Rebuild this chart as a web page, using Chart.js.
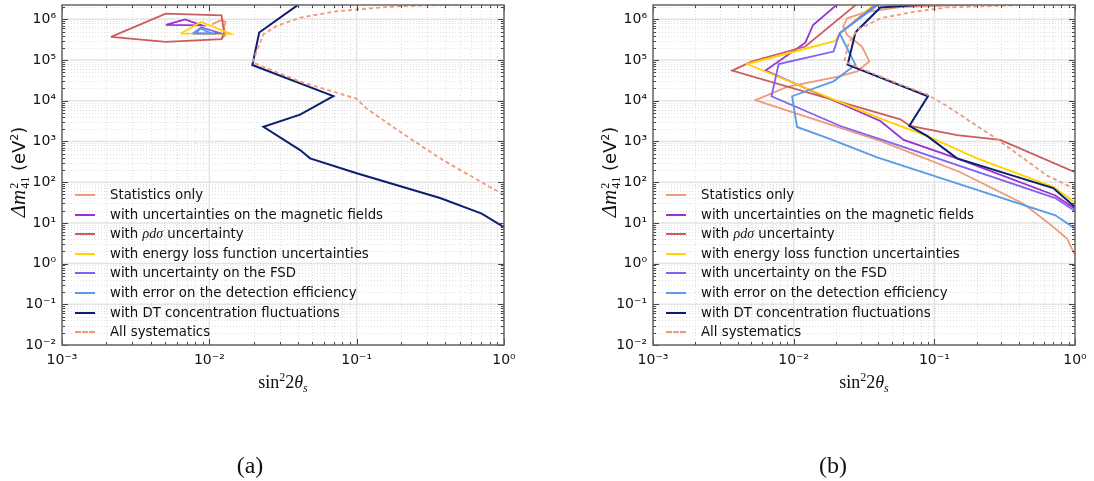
<!DOCTYPE html>
<html>
<head>
<meta charset="utf-8">
<script src="https://cdn.jsdelivr.net/npm/chart.js@4.4.1/dist/chart.umd.min.js"></script>
<style>
  html, body { margin: 0; padding: 0; background: #fff; }
  body { width: 1094px; height: 481px; position: relative; overflow: hidden; font-family: "DejaVu Sans", sans-serif; color: #111; }
  canvas { position: absolute; top: 0; }
  #chart-a { left: 0; }
  #chart-b { left: 580px; }
  .ytitle { position: absolute; transform: translate(-50%, -50%) rotate(-90deg); white-space: nowrap; font-size: 18px; }
  .math { font-family: "Liberation Serif", "DejaVu Serif", serif; font-style: italic; font-size: 21px; }
  .stack { display: inline-flex; flex-direction: column; vertical-align: middle; font-family: "Liberation Serif", serif; font-size: 12px; line-height: 11px; margin-left: 1px; }
  .xtitle { position: absolute; transform: translate(-50%, -50%); white-space: nowrap; font-family: "Liberation Serif", "DejaVu Serif", serif; font-size: 18px; }
  .caption { position: absolute; transform: translate(-50%, -50%); font-family: "Liberation Serif", serif; font-size: 24px; }
  .legend-row { position: absolute; height: 20px; white-space: nowrap; font-size: 13.3px; line-height: 20px; }
  .legend-row .swatch { position: absolute; left: 0; top: 9px; width: 20px; height: 0; }
  .legend-row .label { position: absolute; left: 35px; top: 0; }
  .legend-row i { font-family: "Liberation Serif", serif; font-size: 14px; }
</style>
</head>
<body>
<canvas id="chart-a" width="520" height="400"></canvas>
<canvas id="chart-b" width="514" height="400"></canvas>

<div class="ytitle" style="left:18px; top:172px;"><span class="math">Δm</span><span class="stack"><span>2</span><span>41</span></span> (eV<sup style="font-size:11px">2</sup>)</div>
<div class="ytitle" style="left:609px; top:172px;"><span class="math">Δm</span><span class="stack"><span>2</span><span>41</span></span> (eV<sup style="font-size:11px">2</sup>)</div>
<div class="xtitle" style="left:283px; top:383px;">sin<sup style="font-size:12px">2</sup>2<i>θ</i><sub style="font-size:12px"><i>s</i></sub></div>
<div class="xtitle" style="left:864px; top:383px;">sin<sup style="font-size:12px">2</sup>2<i>θ</i><sub style="font-size:12px"><i>s</i></sub></div>
<div class="caption" style="left:250px; top:465px;">(a)</div>
<div class="caption" style="left:833px; top:465px;">(b)</div>

<script>
// axis ticks
const xTickValues = [1e-3, 1e-2, 1e-1, 1];
const xTickLabels = ["10⁻³", "10⁻²", "10⁻¹", "10⁰"];
const yTickValues = [1e-2, 1e-1, 1, 1e1, 1e2, 1e3, 1e4, 1e5, 1e6];
const yTickLabels = ["10⁻²", "10⁻¹", "10⁰", "10¹", "10²", "10³", "10⁴", "10⁵", "10⁶"];

const seriesNames = [
    "Statistics only",
    "with uncertainties on the magnetic fields",
    "with ρdσ uncertainty",
    "with energy loss function uncertainties",
    "with uncertainty on the FSD",
    "with error on the detection efficiency",
    "with DT concentration fluctuations",
    "All systematics",
];

// panel (a): [sin^2 2theta, dm^2]
const aStat = [[0.0104, 7.5e5], [0.0122, 9.7e5], [0.0129, 8.5e5], [0.0126, 6.5e5], [0.0128, 4.0e5], [0.0121, 3.3e5]];
const aMag = [[0.00506, 7.3e5], [0.00684, 1.0e6], [0.00892, 7.1e5], [0.00506, 7.3e5]];
const aRho = [[0.00215, 3.7e5], [0.00506, 1.38e6], [0.0121, 1.25e6], [0.0126, 4.8e5], [0.0121, 3.25e5], [0.00506, 2.8e5], [0.00215, 3.7e5]];
const aElf = [[0.0064, 4.48e5], [0.0088, 8.6e5], [0.01397, 4.4e5], [0.0064, 4.48e5]];
const aFsd = [[0.0081, 4.5e5], [0.0088, 6.4e5], [0.0120, 4.5e5], [0.0081, 4.5e5]];
const aDet = [[0.0077, 4.48e5], [0.00865, 6.0e5], [0.0104, 4.48e5], [0.0077, 4.48e5]];
const aDt = [[0.0402, 2.3e6], [0.0218, 4.74e5], [0.0196, 7.55e4], [0.0695, 1.30e4], [0.0413, 4.56e3], [0.0233, 2.29e3],
    [0.0413, 614], [0.0483, 385], [0.1, 166], [0.368, 40.7], [0.706, 16.9], [1, 7.85]];
const aAll = [[0.479, 2.3e6], [0.197, 2.11e6], [0.1, 1.75e6], [0.0695, 1.54e6], [0.0413, 1.1e6], [0.0287, 6.9e5],
    [0.0233, 4.3e5], [0.0196, 8.8e4], [0.0413, 2.96e4], [0.1, 1.12e4], [0.117, 6.4e3], [0.197, 1.73e3],
    [0.368, 385], [0.689, 104], [1, 49]];

// panel (b)
const bStat = [[0.195, 2.3e6], [0.0573, 2.0e6], [0.0324, 1.51e6], [0.024, 1.06e6], [0.0225, 6.6e5], [0.024, 4.14e5],
    [0.0306, 2.15e5], [0.0345, 9.25e4], [0.0283, 5.27e4], [0.0203, 3.85e4], [0.00898, 2.19e4], [0.00534, 1.03e4],
    [0.0413, 1.03e3], [0.153, 175], [0.43, 29.6], [0.655, 9.6], [0.877, 4.14], [1, 1.62]];
const bMag = [[0.0203, 2.3e6], [0.01374, 7.27e5], [0.0121, 2.68e5], [0.0063, 5.5e4], [0.0413, 3.18e3], [0.0605, 1.09e3],
    [0.145, 385], [0.724, 47], [1, 22.3]];
const bRho = [[0.0278, 2.3e6], [0.0121, 2.15e5], [0.00506, 9.25e4], [0.00365, 5.5e4], [0.0573, 3.5e3], [0.0674, 2.4e3],
    [0.145, 1.43e3], [0.294, 1.09e3], [1, 175]];
const bElf = [[0.037, 2.3e6], [0.0215, 4.56e5], [0.0198, 2.96e5], [0.00467, 7.98e4], [0.0413, 3.64e3], [0.0887, 1.37e3],
    [0.201, 385], [0.705, 75.5], [1, 31.3]];
const bFsd = [[0.0387, 2.3e6], [0.0212, 4.56e5], [0.0192, 1.62e5], [0.00782, 7.98e4], [0.00695, 1.29e4], [0.0215, 2.4e3],
    [0.0573, 782], [0.724, 40.7], [1, 19.6]];
const bDet = [[0.0402, 2.3e6], [0.0212, 4.56e5], [0.0275, 7.67e4], [0.0192, 3.0e4], [0.00974, 1.29e4], [0.01057, 2.27e3],
    [0.01824, 1.14e3], [0.0392, 407], [0.724, 15.3], [1, 7.3]];
const bDt = [[0.0863, 2.3e6], [0.0413, 1.96e6], [0.0275, 4.82e5], [0.0242, 7.67e4], [0.0901, 1.29e4], [0.0664, 2.4e3],
    [0.0887, 1.37e3], [0.145, 385], [0.70, 71.5], [1, 24.5]];
const bAll = [[0.506, 2.3e6], [0.123, 1.96e6], [0.071, 1.53e6], [0.0413, 1.06e6], [0.037, 8.7e5], [0.0283, 5.48e5],
    [0.0246, 2.6e5], [0.0229, 9.25e4], [0.0315, 5.8e4], [0.0573, 2.5e4], [0.0887, 1.43e4], [0.123, 7.4e3],
    [0.279, 1.14e3], [0.633, 145], [1, 68.7]];

const seriesColors = ["#ee9a7e", "#9a30d6", "#cd5c5c", "#ffd200", "#7f62f2", "#5a9be8", "#0c1f6e", "#f09a7c"];
const dashedSeries = 7;

const gridMajor = "#e4e4e4";
const gridMinor = "#e0e0e0";
const frameColor = "#666";

function minorValues(scale) {
    const out = [];
    const lo = Math.floor(Math.log10(scale.min));
    const hi = Math.ceil(Math.log10(scale.max));
    for (let e = lo; e <= hi; e++) {
        for (let m = 2; m <= 9; m++) {
            const v = m * Math.pow(10, e);
            if (v > scale.min && v < scale.max) out.push(v);
        }
    }
    return out;
}

// grid, inward ticks and frame drawn like matplotlib
const frameGrid = {
    id: "frameGrid",
    beforeDatasetsDraw(chart) {
        const { ctx, chartArea: a, scales: { x, y } } = chart;
        ctx.save();
        ctx.beginPath();
        ctx.rect(a.left, a.top, a.right - a.left, a.bottom - a.top);
        ctx.clip();

        ctx.lineWidth = 1;
        ctx.strokeStyle = gridMinor;
        ctx.setLineDash([1, 2]);
        ctx.beginPath();
        minorValues(x).forEach(v => {
            const p = Math.round(x.getPixelForValue(v)) + 0.5;
            ctx.moveTo(p, a.top); ctx.lineTo(p, a.bottom);
        });
        minorValues(y).forEach(v => {
            const p = Math.round(y.getPixelForValue(v)) + 0.5;
            ctx.moveTo(a.left, p); ctx.lineTo(a.right, p);
        });
        ctx.stroke();

        ctx.setLineDash([]);
        ctx.lineWidth = 1.5;
        ctx.strokeStyle = gridMajor;
        ctx.beginPath();
        xTickValues.forEach(v => {
            const p = x.getPixelForValue(v);
            ctx.moveTo(p, a.top); ctx.lineTo(p, a.bottom);
        });
        yTickValues.forEach(v => {
            const p = y.getPixelForValue(v);
            ctx.moveTo(a.left, p); ctx.lineTo(a.right, p);
        });
        ctx.stroke();
        ctx.restore();
    },
    afterDatasetsDraw(chart) {
        const { ctx, chartArea: a, scales: { x, y } } = chart;
        ctx.save();
        ctx.strokeStyle = "#444";
        ctx.lineWidth = 1;
        ctx.beginPath();
        const tickX = (v, len) => {
            const p = Math.round(x.getPixelForValue(v)) + 0.5;
            ctx.moveTo(p, a.bottom); ctx.lineTo(p, a.bottom - len);
            ctx.moveTo(p, a.top); ctx.lineTo(p, a.top + len);
        };
        const tickY = (v, len) => {
            const p = Math.round(y.getPixelForValue(v)) + 0.5;
            ctx.moveTo(a.left, p); ctx.lineTo(a.left + len, p);
            ctx.moveTo(a.right, p); ctx.lineTo(a.right - len, p);
        };
        minorValues(x).forEach(v => tickX(v, 3));
        minorValues(y).forEach(v => tickY(v, 3));
        xTickValues.forEach(v => tickX(v, 6));
        yTickValues.forEach(v => tickY(v, 6));
        ctx.stroke();

        ctx.strokeStyle = frameColor;
        ctx.lineWidth = 1.5;
        ctx.strokeRect(a.left, a.top, a.right - a.left, a.bottom - a.top);
        ctx.restore();
    },
};

function toPoints(arr) {
    return arr.map(p => ({ x: p[0], y: p[1] }));
}

function createContourChart(canvasId, series, yAxisWidth, rightPad) {
    const canvas = document.getElementById(canvasId);
    const tickFont = { family: "DejaVu Sans", size: 14 };

    return new Chart(canvas, {
        type: "scatter",
        data: {
            datasets: series.map((pts, i) => ({
                label: seriesNames[i],
                data: toPoints(pts),
                showLine: true,
                borderColor: seriesColors[i],
                backgroundColor: seriesColors[i],
                borderWidth: i === 6 ? 2 : 1.8,
                borderDash: i === dashedSeries ? [4, 3] : [],
                pointRadius: 0,
                pointHoverRadius: 0,
                tension: 0,
                order: series.length - i,
            })),
        },
        options: {
            responsive: false,
            animation: false,
            devicePixelRatio: 1,
            events: [],
            layout: { padding: { top: 5, right: rightPad, left: 0, bottom: 0 } },
            plugins: { legend: { display: false }, tooltip: { enabled: false } },
            scales: {
                x: {
                    type: "logarithmic",
                    min: 1e-3,
                    max: 1,
                    grid: { display: false, drawTicks: false },
                    border: { display: false },
                    afterBuildTicks: s => { s.ticks = xTickValues.map(v => ({ value: v })); },
                    afterFit: s => { s.height = 55; s.paddingLeft = 0; s.paddingRight = 0; },
                    ticks: {
                        autoSkip: false, maxRotation: 0, padding: 7, color: "#111", font: tickFont,
                        callback: (v, i) => xTickLabels[i],
                    },
                },
                y: {
                    type: "logarithmic",
                    min: 1e-2,
                    max: 2.25e6,
                    grid: { display: false, drawTicks: false },
                    border: { display: false },
                    afterBuildTicks: s => { s.ticks = yTickValues.map(v => ({ value: v })); },
                    afterFit: s => { s.width = yAxisWidth; s.paddingTop = 0; s.paddingBottom = 0; },
                    ticks: {
                        autoSkip: false, padding: 6, color: "#111", font: tickFont,
                        callback: (v, i) => yTickLabels[i],
                    },
                },
            },
        },
        plugins: [frameGrid],
    });
}

function buildLegend(lineLeft, firstRowCenter, rowStep) {
    seriesNames.forEach((name, i) => {
        const row = document.createElement("div");
        row.className = "legend-row";
        row.style.left = lineLeft + "px";
        row.style.top = (firstRowCenter + i * rowStep - 10) + "px";

        const sw = document.createElement("div");
        sw.className = "swatch";
        sw.style.borderTop = "2px " + (i === dashedSeries ? "dashed " : "solid ") + seriesColors[i];
        row.appendChild(sw);

        const label = document.createElement("span");
        label.className = "label";
        if (name.includes("ρdσ")) {
            const parts = name.split("ρdσ");
            label.appendChild(document.createTextNode(parts[0]));
            const m = document.createElement("i");
            m.textContent = "ρdσ";
            label.appendChild(m);
            label.appendChild(document.createTextNode(parts[1]));
        } else {
            label.textContent = name;
        }
        row.appendChild(label);
        document.body.appendChild(row);
    });
}

createContourChart("chart-a", [aStat, aMag, aRho, aElf, aFsd, aDet, aDt, aAll], 62, 16);
createContourChart("chart-b", [bStat, bMag, bRho, bElf, bFsd, bDet, bDt, bAll], 73, 19);

buildLegend(75, 195, 19.6);
buildLegend(666, 195, 19.6);
</script>
</body>
</html>
